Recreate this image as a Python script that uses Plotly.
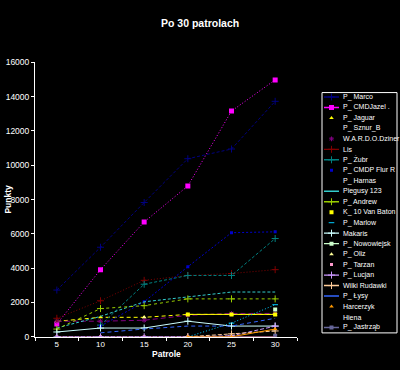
import plotly.graph_objects as go

# ---------------- data ----------------
patrols = [5, 10, 15, 20, 25, 30]
x_labels = ["5", "10", "15", "20", "25", "30"]
y_ticks = [0, 2000, 4000, 6000, 8000, 10000, 12000, 14000, 16000]
y_labels = ["0", "2000", "4000", "6000", "8000", "10000", "12000", "14000", "16000"]

p_marco = [2724, 5220, 7830, 10383, 10950, 13730]
p_cmdjazel = [740, 3915, 6695, 8795, 13164, 14980]
p_jaguar = [900, 1135, 1135, 1305, 1305, 1305]
p_sznur = [None, None, None, None, None, None]
wardo = [908, 908, 965, 1250, 1360, 1360]
lis = [1078, 2100, 3291, 3575, 3688, 3915]
p_zubr = [None, 680, 3064, 3575, 3575, 5730]
p_cmdp = [None, 620, 2040, 4085, 6070, 6120]
p_harnas = [None, None, None, None, None, None]
piegusy = [510, 1190, 2040, 2330, 2610, 2610]
p_andrew = [450, 1645, 1815, 2210, 2210, 2210]
k_baton = [None, None, None, 1305, 1305, 1305]
p_marlow = [0, 0, 0, 0, 795, 1870]
makaris = [280, 510, 510, 908, 625, 625]
p_nowo = [None, None, None, None, None, 1590]
p_oliz = [None, None, 1135, None, None, None]
p_tarzan = [0, 0, 0, 0, 0, 0]
p_lucjan = [0, 0, 0, 0, 57, 620]
wilki = [None, None, None, 0, 170, 340]
p_lysy = [None, 230, 455, 625, 625, 1080]
harcerzyk = [None, None, None, 0, 0, 450]
hiena = [None, None, None, None, None, None]
p_jastrzab = [None, None, None, None, None, 60]

series_names = ["P_ Marco", "P_ CMDJazel .", "P_ Jaguar", "P_ Sznur_B", "W.A.R.D.O.Dziner",
                "Lis", "P_ Żubr", "P_ CMDP Flur R", "P_ Harnas", "Piegusy 123",
                "P_ Andrew", "K_ 10 Van Baton", "P_ Marlow", "Makaris", "P_ Nowowiejsk",
                "P_ Oliz", "P_ Tarzan", "P_ Lucjan", "Wilki Rudawki", "P_ Łysy",
                "Harcerzyk", "Hiena", "P_ Jastrząb"]
series_values = [p_marco, p_cmdjazel, p_jaguar, p_sznur, wardo, lis, p_zubr, p_cmdp,
                 p_harnas, piegusy, p_andrew, k_baton, p_marlow, makaris, p_nowo, p_oliz,
                 p_tarzan, p_lucjan, wilki, p_lysy, harcerzyk, hiena, p_jastrzab]

# ---------------- styles ----------------
# (color, dash, marker symbol, marker size, legend shows line)
styles = [
    ("#000080", "3px,2px", "cross-thin", 5, True),
    ("#FF00FF", "1px,2px", "square", 5, True),
    ("#FFFF00", "4px,3px", "triangle-up", 4, False),
    ("#000000", "solid", "circle", 0, False),
    ("#800080", "5px,3px", "asterisk", 4, False),
    ("#800000", "1px,2px", "cross-thin", 5, True),
    ("#008080", "3px,2px", "cross-thin", 5, True),
    ("#0000CC", "2px,2px", "square", 3, False),
    ("#000000", "solid", "circle", 0, False),
    ("#33CCCC", "3px,2px", "circle", 0, True),
    ("#99CC00", "3px,3px", "cross-thin", 5, True),
    ("#FFFF00", "solid", "square", 4, False),
    ("#00CCFF", "1px,2px", "line-ew", 4, False),
    ("#CCFFFF", "solid", "cross-thin", 5, True),
    ("#CCFFCC", "4px,3px", "square", 4, True),
    ("#FFFF99", "solid", "triangle-up", 4, False),
    ("#FF99CC", "solid", "square", 3, False),
    ("#CC99FF", "4px,2px", "cross-thin", 5, True),
    ("#FFCC99", "4px,2px", "cross-thin", 5, True),
    ("#3366FF", "4px,3px", "circle", 0, True),
    ("#FF9900", "solid", "triangle-up", 4, False),
    ("#000000", "solid", "circle", 0, False),
    ("#666699", "solid", "square", 4, True),
]

W, H = 400, 370
PX0, PX1, PY0, PY1 = 35, 297, 59, 341          # plot area in pixels
LX0, LX1, LY0, LY1 = 322, 397, 90, 337         # legend box in pixels
FONT = "Liberation Sans, Arial, sans-serif"

fig = go.Figure()

def mk(color, sym, size):
    if sym in ("cross-thin", "line-ew", "asterisk"):
        return dict(symbol=sym, size=size, color=color, line=dict(color=color, width=1))
    return dict(symbol=sym, size=size, color=color, line=dict(width=0))

for name, vals, (color, dash, sym, size, _) in zip(series_names, series_values, styles):
    fig.add_trace(go.Scatter(
        x=patrols, y=vals, name=name, mode="lines+markers" if size else "lines",
        line=dict(color=color, width=1, dash=dash), marker=mk(color, sym, size),
        showlegend=False, connectgaps=False, xaxis="x", yaxis="y"))

# ---------------- custom legend (hidden axes) ----------------
step = 10.77
annotations = []
for i, (name, (color, dash, sym, size, showline)) in enumerate(zip(series_names, styles)):
    yy = 4.5 + step * i
    if showline:
        fig.add_trace(go.Scatter(x=[2, 17], y=[yy, yy], mode="lines",
                                 line=dict(color=color, width=1.4), showlegend=False,
                                 hoverinfo="skip", xaxis="x2", yaxis="y2"))
    if size:
        fig.add_trace(go.Scatter(x=[9.5], y=[yy], mode="markers", marker=mk(color, sym, size),
                                 showlegend=False, hoverinfo="skip", xaxis="x2", yaxis="y2"))
    annotations.append(dict(x=(LX0 + 19) / W, y=1 - (LY0 + yy) / H, xref="paper", yref="paper",
                            text=name, showarrow=False, xanchor="left", yanchor="middle",
                            font=dict(size=7, color="white", family=FONT)))

annotations += [
    dict(x=0.5, y=1 - 19 / H, xref="paper", yref="paper", text="<b>Po 30 patrolach</b>",
         showarrow=False, xanchor="center", yanchor="middle",
         font=dict(size=10.5, color="white", family=FONT)),
    dict(x=8 / W, y=1 - 200 / H, xref="paper", yref="paper", text="<b>Punkty</b>",
         textangle=-90, showarrow=False, xanchor="center", yanchor="middle",
         font=dict(size=8.5, color="white", family=FONT)),
    dict(x=166 / W, y=1 - 359 / H, xref="paper", yref="paper", text="<b>Patrole</b>",
         showarrow=False, xanchor="center", yanchor="middle",
         font=dict(size=8.5, color="white", family=FONT)),
]

fig.update_layout(
    width=W, height=H, margin=dict(l=0, r=0, t=0, b=0),
    paper_bgcolor="black", plot_bgcolor="black", showlegend=False,
    xaxis=dict(domain=[PX0 / W, PX1 / W], range=[2.5, 32.5], tickmode="array",
               tickvals=patrols, ticktext=x_labels, ticks="", showgrid=False, zeroline=False,
               showline=True, linecolor="white", linewidth=1,
               tickfont=dict(size=8, color="white", family=FONT),
               minor=dict(tickmode="array", tickvals=[2.5, 7.5, 12.5, 17.5, 22.5, 27.5, 32.5],
                          ticks="outside", ticklen=3, tickcolor="white", showgrid=False),
               anchor="y", fixedrange=True),
    yaxis=dict(domain=[1 - PY1 / H, 1 - PY0 / H], range=[0, 16000], tickmode="array",
               tickvals=y_ticks, ticktext=y_labels, ticks="outside", ticklen=3,
               tickcolor="white", showgrid=False, zeroline=False, showline=True,
               linecolor="white", linewidth=1,
               tickfont=dict(size=8.5, color="white", family=FONT), anchor="x",
               fixedrange=True),
    xaxis2=dict(domain=[LX0 / W, LX1 / W], range=[0, LX1 - LX0], visible=False,
                anchor="y2", fixedrange=True),
    yaxis2=dict(domain=[1 - LY1 / H, 1 - LY0 / H], range=[LY1 - LY0, 0], visible=False,
                anchor="x2", fixedrange=True),
    shapes=[dict(type="rect", xref="paper", yref="paper", x0=LX0 / W, x1=LX1 / W,
                 y0=1 - LY1 / H, y1=1 - LY0 / H, line=dict(color="white", width=1),
                 fillcolor="rgba(0,0,0,0)")],
    annotations=annotations,
)

page_fix = ("document.body.style.margin='0px';"
            "document.body.style.backgroundColor='black';"
            "document.body.style.overflow='hidden';")
fig.write_html("out.html", post_script=page_fix, config={"displayModeBar": False})
